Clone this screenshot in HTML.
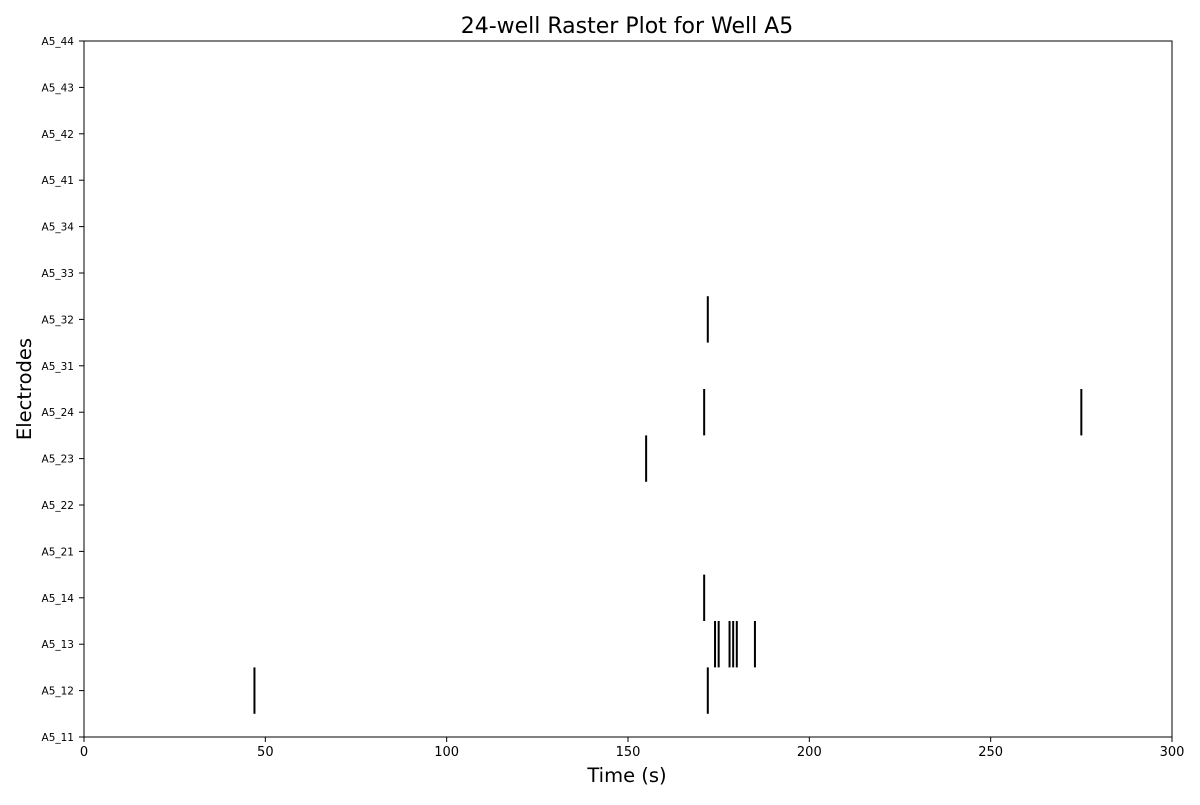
<!DOCTYPE html>
<html><head><meta charset="utf-8"><style>
body{margin:0;background:#fff;}
svg text{font-family:"DejaVu Sans","Liberation Sans",sans-serif;}
</style></head><body>
<svg id="chart" width="1200" height="800">
<rect width="1200" height="800" fill="#fff"/>
<text x="627" y="33" font-size="22" text-anchor="middle">24-well Raster Plot for Well A5</text>
<text x="627" y="782" font-size="19.5" text-anchor="middle">Time (s)</text>
<text transform="translate(31,389) rotate(-90)" font-size="19.5" text-anchor="middle">Electrodes</text>
<g id="ticks"></g>
<g id="marks"></g>
<rect x="84" y="41" width="1088" height="696" fill="none" stroke="#000" stroke-width="1"/>
</svg>
<script>
const electrodes=["A5_11","A5_12","A5_13","A5_14","A5_21","A5_22","A5_23","A5_24","A5_31","A5_32","A5_33","A5_34","A5_41","A5_42","A5_43","A5_44"];
const xTicks=[0,50,100,150,200,250,300];
const spikeRows=["A5_12","A5_12","A5_13","A5_13","A5_13","A5_13","A5_13","A5_13","A5_14","A5_23","A5_24","A5_24","A5_32"];
const spikeTimes=[47,172,174,175,178,179,180,185,171,155,171,275,172];
const NS="http://www.w3.org/2000/svg";
const L=84,R=1172,T=41,B=737;
const xs=v=>L+(v-0)/(300-0)*(R-L);
const ys=i=>B-i*(B-T)/(electrodes.length-1);
const tg=document.getElementById('ticks'),mg=document.getElementById('marks');
function mk(tag,a){const e=document.createElementNS(NS,tag);for(const k in a)e.setAttribute(k,a[k]);return e;}
xTicks.forEach(t=>{
  const l=mk('line',{x1:xs(t),x2:xs(t),y1:B,y2:B+5,stroke:'#000'});
  
  
  tg.appendChild(l);
  const tx=mk('text',{x:xs(t),y:B+19,'font-size':13,'text-anchor':'middle'});
  tx.textContent=t;
  
  
  tg.appendChild(tx);
});
electrodes.forEach((e,i)=>{
  const l=mk('line',{x1:L-5,x2:L,y1:ys(i),y2:ys(i),stroke:'#000'});
  
  
  tg.appendChild(l);
  const tx=mk('text',{x:L-10,y:ys(i)+4,'font-size':10.5,'text-anchor':'end'});
  tx.textContent=e;
  
  
  tg.appendChild(tx);
});
const step=(B-T)/(electrodes.length-1);
spikeTimes.forEach((t,k)=>{
  const i=electrodes.indexOf(spikeRows[k]);
  const l=mk('line',{x1:xs(t),x2:xs(t),y1:ys(i)-step/2,y2:ys(i)+step/2,stroke:'#000','stroke-width':2});
  
  
  mg.appendChild(l);
});
</script>
</body></html>
